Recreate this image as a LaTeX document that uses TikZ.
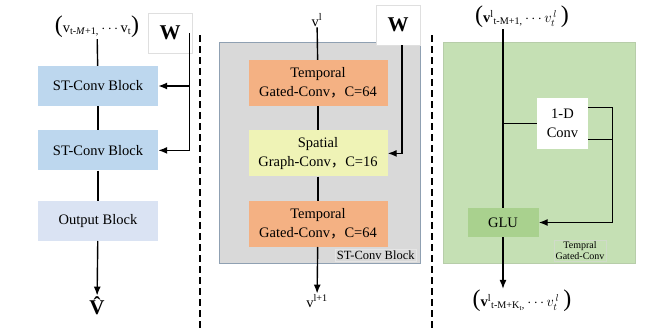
\documentclass[tikz,border=0pt]{standalone}
\usepackage{fontspec}
\setmainfont{Liberation Serif}
\newfontfamily\cjk{Noto Sans CJK SC}
\usepackage{tikz}
\usetikzlibrary{arrows.meta, positioning}
\definecolor{stblue}{HTML}{BDD7EE}
\definecolor{outblue}{HTML}{DAE3F3}
\definecolor{temporange}{HTML}{F4B183}
\definecolor{spatyellow}{HTML}{EFF3B6}
\definecolor{stgray}{HTML}{D9D9D9}
\definecolor{stedge}{HTML}{8FA0B2}
\definecolor{tgreen}{HTML}{C5E0B4}
\definecolor{glugreen}{HTML}{A9D18E}
\newcommand{\fwc}{{\cjk ，}}
\newcommand{\lpar}{{\fontsize{24}{24}\selectfont(}}
\newcommand{\rpar}{{\fontsize{24}{24}\selectfont)}}

\begin{document}
\begin{tikzpicture}[
    x=1pt, y=-1pt,
    node distance=24pt,
    font=\fontsize{14.5}{19}\selectfont,
    lbl/.style={inner sep=1pt},
    wbox/.style={draw=gray!25, fill=white, minimum width=44pt, minimum height=40pt, font=\fontsize{21}{21}\selectfont\bfseries},
    blk/.style={rectangle, minimum width=120pt, minimum height=40pt, fill=stblue},
    layer/.style={rectangle, minimum width=139pt, minimum height=46pt, align=center, inner sep=1pt},
    panel/.style={rectangle, draw=stedge, line width=0.6pt},
    tag/.style={draw=white!80!gray, inner sep=1.5pt, align=center},
    link/.style={line width=1.4pt},
    arrow/.style={-{Latex[length=9pt,width=7pt]}, line width=1.4pt},
    sep/.style={line width=1.4pt, dash pattern=on 7pt off 4pt}
]
\useasboundingbox (0,0) rectangle (662,332);

% Overall model
\node[lbl] (in1) at (97,27) {\lpar v\textsubscript{t-\textit{M}+1,}\,$\cdots$\,v\textsubscript{t}\rpar};
\node[wbox] (w1) at (170,33) {W};
\node[blk] (st1) at (98,86) {ST-Conv Block};
\node[blk, below=of st1] (st2) {ST-Conv Block};
\node[blk, fill=outblue, below=of st2, yshift=-6pt] (out) {Output Block};
\node[lbl, font=\fontsize{21}{21}\selectfont\bfseries] (vhat) at (97,306) {\^{V}};

\draw[link] (in1) -- (st1);
\draw[link] (st1) -- (st2);
\draw[link] (st2) -- (out);
\draw[arrow] (out) -- (vhat);
\draw[arrow] ([xshift=-3pt]w1.east) |- (st1.east);
\draw[arrow] ([xshift=-3pt]w1.east) |- (st2.east);

\draw[sep] (200,35) -- (200,328);

% ST-Conv Block
\node[panel, fill=stgray, minimum width=201pt, minimum height=221pt] (gbox) at (319.5,152.5) {};
\node[tag, font=\fontsize{12.5}{14}\selectfont, anchor=south east] (gtag) at ([xshift=-4pt,yshift=2pt]gbox.south east) {ST-Conv Block};
\node[lbl] (vl) at (317,20) {v\textsuperscript{l}};
\node[wbox] (w2) at (398,25) {W};
\node[layer, fill=temporange] (t1) at (318,83) {Temporal\\Gated-Conv\fwc C=64};
\node[layer, fill=spatyellow, below=of t1] (sp) {Spatial\\Graph-Conv\fwc C=16};
\node[layer, fill=temporange, below=of sp] (t2) {Temporal\\Gated-Conv\fwc C=64};
\node[lbl] (vl1) at (317,301) {v\textsuperscript{l+1}};

\draw[link] (vl) -- (t1);
\draw[link] (t1) -- (sp);
\draw[link] (sp) -- (t2);
\draw[arrow] (t2) -- (vl1);
\draw[arrow] ([xshift=4pt]w2.south) |- (sp.east);

\draw[sep] (432,35) -- (432,332);

% Temporal Gated-Conv
\node[panel, draw=tgreen!80!gray, fill=tgreen, minimum width=192pt, minimum height=221pt] (gnbox) at (539,152.5) {};
\node[tag, draw=tgreen!70!gray!60, font=\fontsize{10}{11}\selectfont] (gntag) at (580,251) {Tempral\\Gated-Conv};
\node[lbl] (in3) at (522,17) {\lpar\textbf{v}\textsuperscript{l}\textsubscript{t-M+1,}\,$\cdots$\,$v_t^{\,l}$\hspace{4pt}\rpar};
\node[rectangle, fill=white, minimum width=51pt, minimum height=51pt, align=center] (conv) at (562.5,123.5) {1-D\\Conv};
\node[rectangle, fill=glugreen, minimum width=71pt, minimum height=29pt] (glu) at (503,222.5) {GLU};
\node[lbl] (out3) at (522,301) {\lpar\textbf{v}\textsuperscript{l}\textsubscript{t-M+K\textsubscript{t},}\,$\cdots$\,$v_t^{\,l}$\hspace{4pt}\rpar};

\draw[link] (in3.south -| glu.north) -- (glu.north);
\draw[link] (glu.north |- conv.west) -- (conv.west);
\draw[arrow] ([yshift=16pt]conv.east) -| ([xshift=24pt]conv.east |- glu.east) -- (glu.east);
\draw[link] ([yshift=-16pt]conv.east) -- ++(24pt,0);
\draw[arrow] (glu.south) -- (glu.south |- out3.north);
\end{tikzpicture}
\end{document}
